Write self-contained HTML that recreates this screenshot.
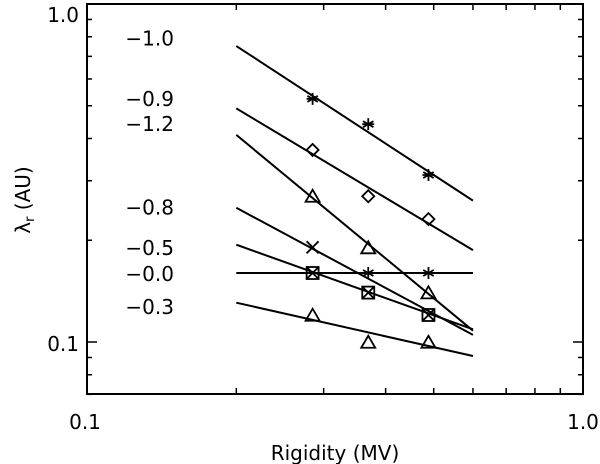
<!DOCTYPE html>
<html><head><meta charset="utf-8"><style>
html,body{margin:0;padding:0;background:#fff;}
svg{display:block;font-family:"DejaVu Sans","Liberation Sans",sans-serif;}
</style></head><body>
<svg id="chart" width="600" height="464" viewBox="0 0 600 464"></svg>
<script>
const lineLabels = ["-1.0","-0.9","-1.2","-0.8","-0.5","-0.0","-0.3"];
const lineStart = [0.751,0.491,0.41,0.2495,0.194,0.160,0.1307];
const lineEnd = [0.262,0.187,0.108,0.105,0.109,0.160,0.0909];
const labelValues = [0.79,0.524,0.442,0.25,0.19,0.159,0.127];
const lineX0 = 0.2, lineX1 = 0.6;
const ptX = [0.285,0.369,0.488];
const starPts = [0.524,0.441,0.312];
const diamondPts = [0.370,0.270,0.231];
const tri1Pts = [0.269,0.1893,0.1393];
const crossPts = [0.1906];
const star2Pts = [0.160,0.160];
const squarePts = [0.160,0.140,0.1202];
const tri2Pts = [0.1196,0.0995,0.0995];
const yMinorTicks = [0.07,0.08,0.09,0.2,0.3,0.4,0.5,0.6,0.7,0.8,0.9];
const xMinorTicks = [0.2,0.3,0.4,0.5,0.6,0.7,0.8,0.9];

const L=87,R=583,T=4,B=394;
const X=v=>L+(Math.log10(v)+1)*496;
const Y=v=>342-(Math.log10(v)+1)*338;
const svg=document.getElementById('chart');
const NS='http://www.w3.org/2000/svg';
function mk(tag,attrs,parent){const e=document.createElementNS(NS,tag);for(const k in attrs)e.setAttribute(k,attrs[k]);(parent||svg).appendChild(e);return e;}

let frame=mk('rect',{x:L,y:T,width:R-L,height:B-T,fill:'none',stroke:'#000','stroke-width':2});



yMinorTicks.forEach(v=>{const y=Y(v);
 let t=mk('line',{x1:L,x2:L+5,y1:y,y2:y,stroke:'#000','stroke-width':1.5});
 
 
 let t2=mk('line',{x1:R,x2:R-5,y1:y,y2:y,stroke:'#000','stroke-width':1.5});
 
 
});
[0.1].forEach(v=>{const y=Y(v);
 let t=mk('line',{x1:L,x2:L+10,y1:y,y2:y,stroke:'#000','stroke-width':1.5});
 
 
 let t2=mk('line',{x1:R,x2:R-10,y1:y,y2:y,stroke:'#000','stroke-width':1.5});
 
 
});
xMinorTicks.forEach(v=>{const x=X(v);
 let t=mk('line',{x1:x,x2:x,y1:B,y2:B-6,stroke:'#000','stroke-width':1.5});
 
 
 let t2=mk('line',{x1:x,x2:x,y1:T,y2:T+6,stroke:'#000','stroke-width':1.5});
 
 
});
function txt(s,x,y,anchor,name,extra){const e=mk('text',Object.assign({x:x,y:y,'text-anchor':anchor,'font-size':20,fill:'#000'},extra||{}));e.textContent=s;
 
 return e;}
txt('1.0',79,22,'end','y-tick-label-1');
txt('0.1',79,351,'end','y-tick-label-0.1');
txt('0.1',85,429,'middle','x-tick-label-0.1');
txt('1.0',583,429,'middle','x-tick-label-1');
txt('Rigidity (MV)',335,460,'middle','x-axis-title');
const yt=mk('text',{x:0,y:0,'font-size':20,'text-anchor':'middle',transform:'translate(30,200) rotate(-90)'});


yt.innerHTML='λ<tspan font-size="13" dy="4">r</tspan><tspan dy="-4"> (AU)</tspan>';

lineLabels.forEach((s,i)=>{
 let l=mk('line',{x1:X(lineX0),y1:Y(lineStart[i]),x2:X(lineX1),y2:Y(lineEnd[i]),stroke:'#000','stroke-width':2});
 
 
 txt(s.replace('-','\u2212'),174,Y(labelValues[i])+7,'end','slope-label');
});

function marker(type,xv,yv){const x=X(xv),y=Y(yv);const g=mk('g',{stroke:'#000','stroke-width':1.8,fill:'none'});
 
 
 const s=6;
 if(type==='star'){[[0,-s],[s*.87,-s*.5],[s*.87,s*.5]].forEach(([dx,dy])=>mk('line',{x1:x-dx,y1:y-dy,x2:x+dx,y2:y+dy},g));mk('line',{x1:x-s,y1:y,x2:x+s,y2:y},g);}
 else if(type==='diamond'){mk('polygon',{points:`${x},${y-s} ${x+s},${y} ${x},${y+s} ${x-s},${y}`},g);}
 else if(type==='triangle'){mk('polygon',{points:`${x},${y-s-1} ${x+s+1},${y+s-1} ${x-s-1},${y+s-1}`},g);}
 else if(type==='cross'){mk('line',{x1:x-s,y1:y-s,x2:x+s,y2:y+s},g);mk('line',{x1:x-s,y1:y+s,x2:x+s,y2:y-s},g);}
 else if(type==='square'){mk('rect',{x:x-s,y:y-s,width:2*s,height:2*s},g);mk('line',{x1:x-s,y1:y-s,x2:x+s,y2:y+s},g);mk('line',{x1:x-s,y1:y+s,x2:x+s,y2:y-s},g);}
}
starPts.forEach((v,i)=>marker('star',ptX[i],v));
diamondPts.forEach((v,i)=>marker('diamond',ptX[i],v));
tri1Pts.forEach((v,i)=>marker('triangle',ptX[i],v));
crossPts.forEach((v,i)=>marker('cross',ptX[i],v));
star2Pts.forEach((v,i)=>marker('star',ptX[i+1],v));
squarePts.forEach((v,i)=>marker('square',ptX[i],v));
tri2Pts.forEach((v,i)=>marker('triangle',ptX[i],v));
</script>
</body></html>
